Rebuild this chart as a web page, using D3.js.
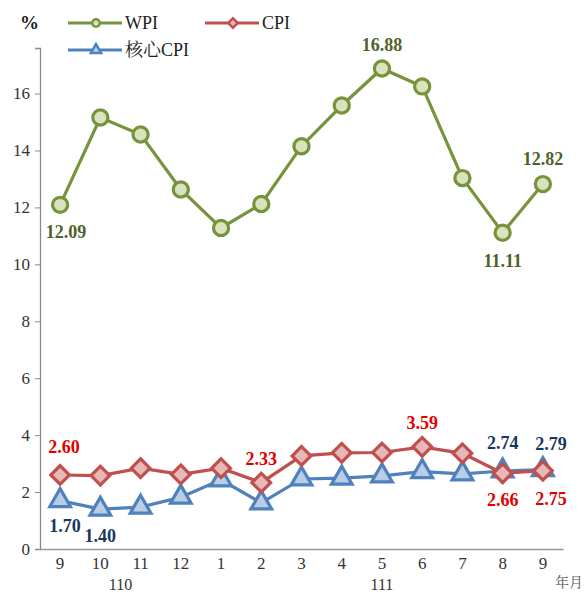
<!DOCTYPE html>
<html>
<head>
<meta charset="utf-8">
<script src="https://cdn.jsdelivr.net/npm/d3@7"></script>
</head>
<body style="margin:0;background:#fff">
<svg width="586" height="594"></svg>
<script>
// data
var months = ["9", "10", "11", "12", "1", "2", "3", "4", "5", "6", "7", "8", "9"];
var years = [{ label: "110", from: 0, to: 3 }, { label: "111", from: 4, to: 12 }];
var wpi  = [12.09, 15.16, 14.56, 12.63, 11.28, 12.12, 14.15, 15.58, 16.88, 16.25, 13.03, 11.11, 12.82];
var cpi  = [2.60, 2.58, 2.84, 2.62, 2.84, 2.33, 3.27, 3.38, 3.39, 3.59, 3.36, 2.66, 2.75];
var core = [1.70, 1.40, 1.47, 1.82, 2.43, 1.62, 2.46, 2.49, 2.57, 2.72, 2.64, 2.74, 2.79];
var yTicks = [0, 2, 4, 6, 8, 10, 12, 14, 16];

// labelled points: [index, dx, dy] offset of the text from the marker
var wpiLabels  = [[0, 6, 33], [8, 0, -17], [11, 0, 34], [12, 0, -19]];
var cpiLabels  = [[0, 4, -22], [5, 0, -18], [9, 0, -18], [11, 0, 33], [12, 8, 34]];
var coreLabels = [[0, 5, 31], [1, 0, 33], [11, 0, -22], [12, 8, -20]];

var serif = "'Liberation Serif', 'Noto Serif CJK TC', serif";

var svg = d3.select("svg");

var x = d3.scaleBand()
	.domain(d3.range(months.length))
	.range([40, 563]);
var y = d3.scaleLinear()
	.domain([0, 17.6])
	.range([549, 48]);

var cx = function(i) { return x(i) + x.bandwidth() / 2; };

// y axis
var yAxis = svg.append("g")
	.attr("transform", "translate(40,0)")
	.call(d3.axisLeft(y).tickValues(yTicks).tickSize(5).tickPadding(5));
yAxis.select(".domain").attr("stroke", "#888").attr("stroke-width", 1.3);
yAxis.selectAll(".tick line").attr("stroke", "#888");
yAxis.selectAll(".tick text")
	.attr("fill", "#333")
	.style("font-family", serif)
	.style("font-size", "17px");

// x axis
var xAxis = svg.append("g")
	.attr("transform", "translate(0,549)")
	.call(d3.axisBottom(x).tickFormat(function(i) { return months[i]; }).tickSize(0).tickPadding(8));
xAxis.select(".domain").attr("stroke", "#999").attr("stroke-width", 1.3);
xAxis.selectAll(".tick text")
	.attr("fill", "#333")
	.style("font-family", serif)
	.style("font-size", "17px");

svg.selectAll(".year")
	.data(years)
	.enter().append("text")
	.attr("x", function(d) { return (cx(d.from) + cx(d.to)) / 2; })
	.attr("y", 590)
	.attr("text-anchor", "middle")
	.attr("fill", "#333")
	.style("font-family", serif)
	.style("font-size", "16px")
	.text(function(d) { return d.label; });

svg.append("text")
	.attr("x", 569).attr("y", 587)
	.attr("text-anchor", "middle")
	.attr("fill", "#555")
	.style("font-family", "'Noto Serif CJK TC', serif")
	.style("font-size", "14px")
	.text("年月");

svg.append("text")
	.attr("x", 20).attr("y", 29)
	.attr("fill", "#222")
	.style("font-family", serif)
	.style("font-size", "19px")
	.style("font-weight", "bold")
	.text("%");

// markers
var symCircle   = d3.symbol().type(d3.symbolCircle).size(180);
var symDiamond  = d3.symbol().type(d3.symbolSquare).size(175);
var symTriangle = d3.symbol().type(d3.symbolTriangle).size(185);

var series = [
	{ name: "WPI", values: wpi, line: "#77933C", fill: "#D7E4BD", text: "#4F6228", sym: symCircle, rot: 0, labels: wpiLabels },
	{ name: "CPI", values: cpi, line: "#C0504D", fill: "#E6B9B8", text: "#E00000", sym: symDiamond, rot: 45, labels: cpiLabels },
	{ name: "核心CPI", values: core, line: "#4F81BD", fill: "#B9CDE5", text: "#17375E", sym: symTriangle, rot: 0, labels: coreLabels }
];

var line = d3.line()
	.x(function(d, i) { return cx(i); })
	.y(function(d) { return y(d); });

// core first so the CPI line sits above it, as in the picture
[series[2], series[1], series[0]].forEach(function(s) {
	var g = svg.append("g");
	g.append("path")
		.datum(s.values)
		.attr("fill", "none")
		.attr("stroke", s.line)
		.attr("stroke-width", 3.2)
		.attr("d", line);
	g.selectAll(".m")
		.data(s.values)
		.enter().append("path")
		.attr("d", s.sym)
		.attr("transform", function(d, i) { return "translate(" + cx(i) + "," + y(d) + ") rotate(" + s.rot + ")"; })
		.attr("fill", s.fill)
		.attr("stroke", s.line)
		.attr("stroke-width", 3.2);
});

// value labels
series.forEach(function(s) {
	svg.selectAll(null)
		.data(s.labels)
		.enter().append("text")
		.attr("x", function(d) { return cx(d[0]) + d[1]; })
		.attr("y", function(d) { return y(s.values[d[0]]) + d[2]; })
		.attr("text-anchor", "middle")
		.attr("fill", s.text)
		.style("font-family", serif)
		.style("font-size", "18px")
		.style("font-weight", "bold")
		.text(function(d) { return s.values[d[0]].toFixed(2); });
});

// legend
var legend = [
	{ s: series[0], x: 68, y: 23 },
	{ s: series[1], x: 205, y: 23 },
	{ s: series[2], x: 68, y: 50 }
];
legend.forEach(function(l) {
	var g = svg.append("g");
	g.append("line")
		.attr("x1", l.x).attr("x2", l.x + 54)
		.attr("y1", l.y).attr("y2", l.y)
		.attr("stroke", l.s.line).attr("stroke-width", 3);
	g.append("path")
		.attr("d", d3.symbol().type(l.s.sym.type()).size(45))
		.attr("transform", "translate(" + (l.x + 28) + "," + l.y + ") rotate(" + l.s.rot + ")")
		.attr("fill", l.s.fill)
		.attr("stroke", l.s.line)
		.attr("stroke-width", 2.5);
	g.append("text")
		.attr("x", l.x + 57).attr("y", l.y + 6)
		.attr("fill", "#222")
		.style("font-family", serif)
		.style("font-size", "18px")
		.text(l.s.name);
});
</script>
</body>
</html>
